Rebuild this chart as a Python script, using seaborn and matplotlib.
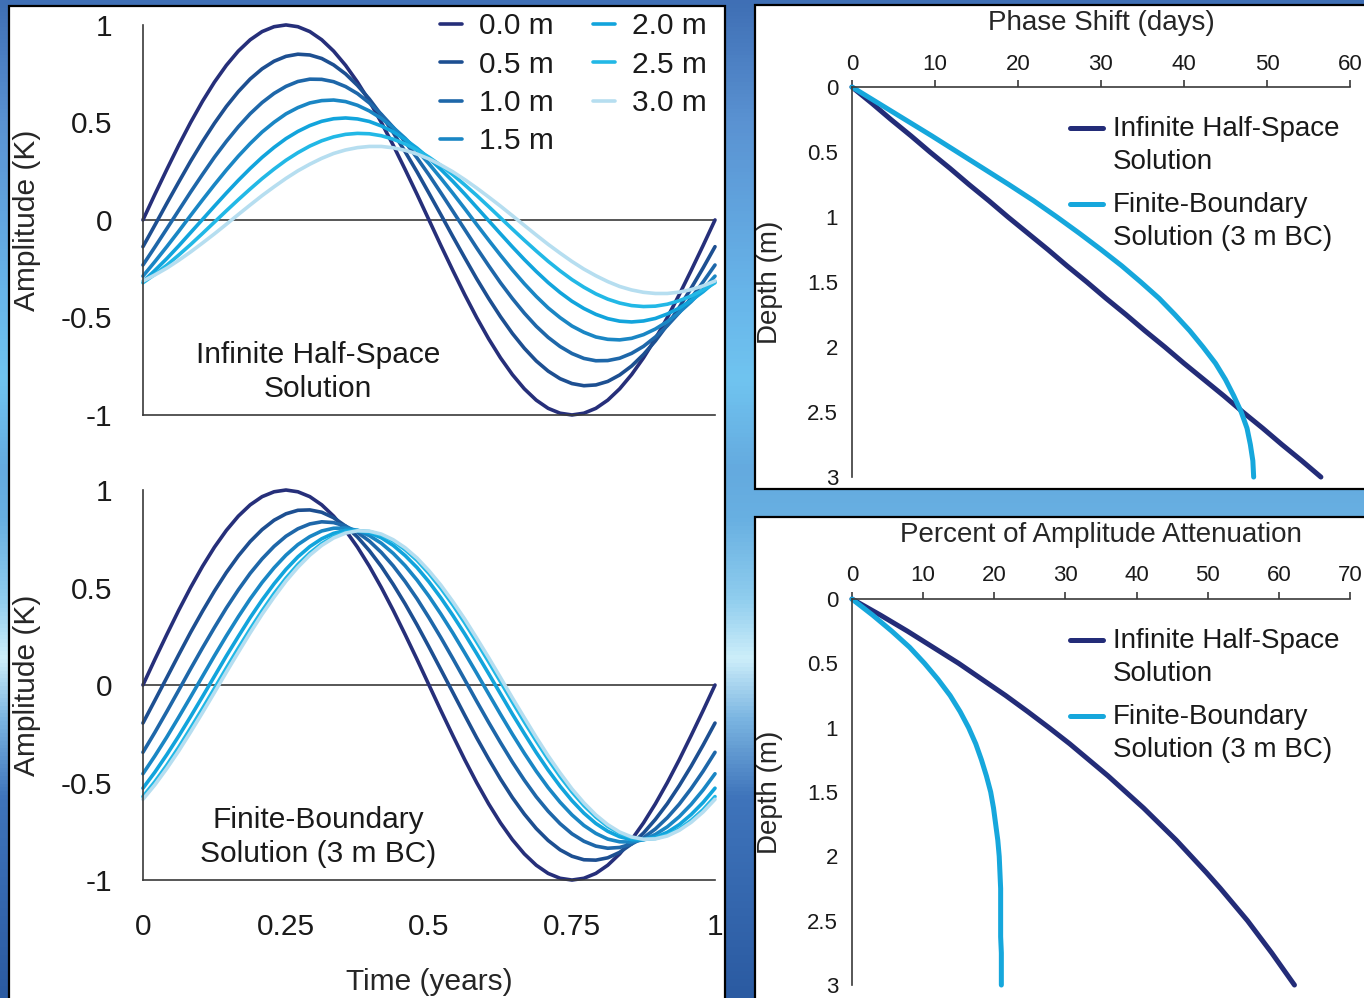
import numpy as np
import matplotlib
matplotlib.use('Agg')
import matplotlib.pyplot as plt
import seaborn as sns
from matplotlib.colors import LinearSegmentedColormap
from matplotlib.patches import Rectangle

"""Data read off the picture"""

# time axis of the two wave panels (years)
time_years = [0.0, 0.0208, 0.0417, 0.0625, 0.0833, 0.1042, 0.125, 0.1458, 0.1667, 0.1875,
              0.2083, 0.2292, 0.25, 0.2708, 0.2917, 0.3125, 0.3333, 0.3542, 0.375, 0.3958,
              0.4167, 0.4375, 0.4583, 0.4792, 0.5, 0.5208, 0.5417, 0.5625, 0.5833, 0.6042,
              0.625, 0.6458, 0.6667, 0.6875, 0.7083, 0.7292, 0.75, 0.7708, 0.7917, 0.8125,
              0.8333, 0.8542, 0.875, 0.8958, 0.9167, 0.9375, 0.9583, 0.9792, 1.0]

depth_labels = ['0.0 m', '0.5 m', '1.0 m', '1.5 m', '2.0 m', '2.5 m', '3.0 m']

# surface wave, same for both solutions
surf_00 = [0, 0.131, 0.259, 0.383, 0.5, 0.609, 0.707, 0.793, 0.866, 0.924, 0.966, 0.991,
           1, 0.991, 0.966, 0.924, 0.866, 0.793, 0.707, 0.609, 0.5, 0.383, 0.259, 0.131,
           0, -0.131, -0.259, -0.383, -0.5, -0.609, -0.707, -0.793, -0.866, -0.924, -0.966, -0.991,
           -1, -0.991, -0.966, -0.924, -0.866, -0.793, -0.707, -0.609, -0.5, -0.383, -0.259, -0.131, 0]

# infinite half-space solution, amplitude (K) per depth
inf_05 = [-0.137, -0.027, 0.085, 0.194, 0.301, 0.402, 0.496, 0.582, 0.658, 0.723, 0.775, 0.814,
          0.839, 0.850, 0.846, 0.828, 0.795, 0.749, 0.690, 0.620, 0.538, 0.448, 0.350, 0.246,
          0.137, 0.027, -0.085, -0.194, -0.301, -0.402, -0.496, -0.582, -0.658, -0.723, -0.775, -0.814,
          -0.839, -0.850, -0.846, -0.828, -0.795, -0.749, -0.690, -0.620, -0.538, -0.448, -0.350, -0.246,
          -0.137]
inf_10 = [-0.231, -0.139, -0.045, 0.049, 0.143, 0.234, 0.322, 0.403, 0.478, 0.545, 0.602, 0.649,
          0.685, 0.710, 0.722, 0.721, 0.709, 0.684, 0.648, 0.600, 0.542, 0.475, 0.400, 0.318,
          0.231, 0.139, 0.045, -0.049, -0.143, -0.234, -0.322, -0.403, -0.478, -0.545, -0.602, -0.649,
          -0.685, -0.710, -0.722, -0.721, -0.709, -0.684, -0.648, -0.600, -0.542, -0.475, -0.400, -0.318,
          -0.231]
inf_15 = [-0.288, -0.214, -0.137, -0.058, 0.023, 0.103, 0.181, 0.256, 0.327, 0.392, 0.451, 0.501,
          0.544, 0.576, 0.600, 0.612, 0.615, 0.607, 0.588, 0.559, 0.521, 0.474, 0.419, 0.356,
          0.288, 0.214, 0.137, 0.058, -0.023, -0.103, -0.181, -0.256, -0.327, -0.392, -0.451, -0.501,
          -0.544, -0.576, -0.600, -0.612, -0.615, -0.607, -0.588, -0.559, -0.521, -0.474, -0.419, -0.356,
          -0.288]
inf_20 = [-0.316, -0.259, -0.198, -0.133, -0.065, 0.003, 0.071, 0.138, 0.203, 0.264, 0.321, 0.372,
          0.417, 0.454, 0.484, 0.506, 0.519, 0.523, 0.518, 0.505, 0.482, 0.452, 0.413, 0.368,
          0.316, 0.259, 0.198, 0.133, 0.065, -0.003, -0.071, -0.138, -0.203, -0.264, -0.321, -0.372,
          -0.417, -0.454, -0.484, -0.506, -0.519, -0.523, -0.518, -0.505, -0.482, -0.452, -0.413, -0.368,
          -0.316]
inf_25 = [-0.322, -0.279, -0.232, -0.180, -0.126, -0.069, -0.011, 0.047, 0.104, 0.159, 0.212, 0.261,
          0.306, 0.345, 0.379, 0.406, 0.426, 0.439, 0.444, 0.442, 0.432, 0.414, 0.390, 0.359,
          0.322, 0.279, 0.232, 0.180, 0.126, 0.069, 0.011, -0.047, -0.104, -0.159, -0.212, -0.261,
          -0.306, -0.345, -0.379, -0.406, -0.426, -0.439, -0.444, -0.442, -0.432, -0.414, -0.390, -0.359,
          -0.322]
inf_30 = [-0.313, -0.282, -0.247, -0.207, -0.164, -0.118, -0.071, -0.022, 0.028, 0.077, 0.125, 0.170,
          0.213, 0.252, 0.286, 0.316, 0.341, 0.359, 0.371, 0.377, 0.377, 0.370, 0.357, 0.338,
          0.313, 0.282, 0.247, 0.207, 0.164, 0.118, 0.071, 0.022, -0.028, -0.077, -0.125, -0.170,
          -0.213, -0.252, -0.286, -0.316, -0.341, -0.359, -0.371, -0.377, -0.377, -0.370, -0.357, -0.338,
          -0.313]

# finite-boundary solution (3 m BC), amplitude (K) per depth
fin_05 = [-0.195, -0.079, 0.038, 0.155, 0.270, 0.379, 0.482, 0.577, 0.662, 0.736, 0.797, 0.845,
          0.878, 0.896, 0.898, 0.886, 0.858, 0.815, 0.759, 0.689, 0.608, 0.516, 0.416, 0.308,
          0.195, 0.079, -0.038, -0.155, -0.270, -0.379, -0.482, -0.577, -0.662, -0.736, -0.797, -0.845,
          -0.878, -0.896, -0.898, -0.886, -0.858, -0.815, -0.759, -0.689, -0.608, -0.516, -0.416, -0.308,
          -0.195]
fin_10 = [-0.345, -0.243, -0.136, -0.027, 0.083, 0.191, 0.295, 0.395, 0.488, 0.573, 0.647, 0.711,
          0.763, 0.801, 0.826, 0.837, 0.833, 0.815, 0.783, 0.738, 0.680, 0.611, 0.531, 0.442,
          0.345, 0.243, 0.136, 0.027, -0.083, -0.191, -0.295, -0.395, -0.488, -0.573, -0.647, -0.711,
          -0.763, -0.801, -0.826, -0.837, -0.833, -0.815, -0.783, -0.738, -0.680, -0.611, -0.531, -0.442,
          -0.345]
fin_15 = [-0.455, -0.364, -0.267, -0.165, -0.061, 0.045, 0.150, 0.252, 0.350, 0.442, 0.526, 0.601,
          0.666, 0.720, 0.761, 0.790, 0.804, 0.805, 0.793, 0.766, 0.727, 0.675, 0.612, 0.538,
          0.455, 0.364, 0.267, 0.165, 0.061, -0.045, -0.150, -0.252, -0.350, -0.442, -0.526, -0.601,
          -0.666, -0.720, -0.761, -0.790, -0.804, -0.805, -0.793, -0.766, -0.727, -0.675, -0.612, -0.538,
          -0.455]
fin_20 = [-0.529, -0.447, -0.357, -0.262, -0.162, -0.059, 0.045, 0.149, 0.249, 0.346, 0.436, 0.519,
          0.593, 0.657, 0.710, 0.750, 0.778, 0.793, 0.793, 0.781, 0.755, 0.716, 0.664, 0.602,
          0.529, 0.447, 0.357, 0.262, 0.162, 0.059, -0.045, -0.149, -0.249, -0.346, -0.436, -0.519,
          -0.593, -0.657, -0.710, -0.750, -0.778, -0.793, -0.793, -0.781, -0.755, -0.716, -0.664, -0.602,
          -0.529]
fin_25 = [-0.572, -0.496, -0.411, -0.319, -0.221, -0.120, -0.017, 0.087, 0.189, 0.287, 0.381, 0.469,
          0.548, 0.618, 0.677, 0.725, 0.761, 0.783, 0.792, 0.787, 0.769, 0.738, 0.694, 0.639,
          0.572, 0.496, 0.411, 0.319, 0.221, 0.120, 0.017, -0.087, -0.189, -0.287, -0.381, -0.469,
          -0.548, -0.618, -0.677, -0.725, -0.761, -0.783, -0.792, -0.787, -0.769, -0.738, -0.694, -0.639,
          -0.572]
fin_30 = [-0.586, -0.512, -0.428, -0.338, -0.241, -0.141, -0.038, 0.066, 0.168, 0.268, 0.363, 0.451,
          0.533, 0.604, 0.666, 0.716, 0.754, 0.779, 0.791, 0.789, 0.774, 0.745, 0.704, 0.651,
          0.586, 0.512, 0.428, 0.338, 0.241, 0.141, 0.038, -0.066, -0.168, -0.268, -0.363, -0.451,
          -0.533, -0.604, -0.666, -0.716, -0.754, -0.779, -0.791, -0.789, -0.774, -0.745, -0.704, -0.651,
          -0.586]

# depth profiles for the right hand panels
depth_m = [0, 0.125, 0.25, 0.375, 0.5, 0.625, 0.75, 0.875, 1.0, 1.125, 1.25, 1.375, 1.5,
           1.625, 1.75, 1.875, 2.0, 2.125, 2.25, 2.375, 2.5, 2.625, 2.75, 2.875, 3.0]
phase_inf_days = [0, 2.4, 4.7, 7.1, 9.4, 11.8, 14.1, 16.5, 18.8, 21.2, 23.6, 25.9, 28.3,
                  30.6, 33.0, 35.3, 37.7, 40.0, 42.4, 44.8, 47.1, 49.5, 51.8, 54.2, 56.5]
phase_fin_days = [0, 3.2, 6.4, 9.6, 12.7, 15.8, 18.9, 21.9, 24.7, 27.4, 30.0, 32.5, 34.8,
                  37.0, 38.9, 40.7, 42.3, 43.8, 45.0, 46.0, 46.9, 47.6, 48.0, 48.3, 48.4]
atten_inf_pct = [0, 4.0, 7.8, 11.4, 15.0, 18.3, 21.6, 24.7, 27.7, 30.6, 33.3, 36.0, 38.5,
                 41.0, 43.3, 45.6, 47.7, 49.8, 51.8, 53.7, 55.6, 57.3, 59.0, 60.6, 62.2]
atten_fin_pct = [0, 2.9, 5.6, 8.1, 10.2, 12.1, 13.8, 15.2, 16.4, 17.4, 18.2, 18.9, 19.5,
                 19.9, 20.2, 20.5, 20.7, 20.8, 20.9, 20.9, 20.9, 20.9, 21.0, 21.0, 21.0]

amp_ticks = [1, 0.5, 0, -0.5, -1]
amp_tick_labels = ['1', '0.5', '0', '-0.5', '-1']
time_ticks = [0, 0.25, 0.5, 0.75, 1]
time_tick_labels = ['0', '0.25', '0.5', '0.75', '1']
depth_ticks = [0, 0.5, 1, 1.5, 2, 2.5, 3]
depth_tick_labels = ['0', '0.5', '1', '1.5', '2', '2.5', '3']

depth_colors = ['#262f7a', '#1d4f91', '#1e67a9', '#1a86c4', '#12a4dc', '#22b8e6', '#b6def0']
navy = '#232c78'
cyan = '#16a7dc'
ink = '#1a1a1a'
axis_grey = '#3a3a3a'

sns.set_style('white')
plt.rcParams['font.family'] = ['Liberation Sans', 'DejaVu Sans']
plt.rcParams['text.color'] = ink

fig = plt.figure(figsize=(13.64, 9.98), dpi=100)

# blue gradient backdrop
bg = fig.add_axes([0, 0, 1, 1], zorder=-10)
bg_cmap = LinearSegmentedColormap.from_list('bg', [
    (0.0, '#3f6fb5'), (0.12, '#5a92d2'), (0.3, '#68b6ea'), (0.38, '#70c4f0'),
    (0.47, '#64aadf'), (0.52, '#68b0e2'), (0.6, '#8fcdee'), (0.66, '#cdeefa'),
    (0.72, '#7cb6e2'), (0.8, '#3f74bb'), (1.0, '#2b5ba2')])
bg.imshow(np.linspace(0, 1, 256).reshape(-1, 1), aspect='auto', cmap=bg_cmap)
bg.axis('off')

# white panels
for x0, y0, w, h in [(0.0066, -0.01, 0.525, 1.004),
                     (0.5535, 0.51, 0.46, 0.485),
                     (0.5535, -0.01, 0.46, 0.492)]:
    fig.add_artist(Rectangle((x0, y0), w, h, transform=fig.transFigure,
                             facecolor='white', edgecolor='black', lw=1.6, zorder=-5))


def wave_panel(ax, curves, note):
    """sine curves of temperature amplitude at each depth"""
    for lab, vals, col in zip(depth_labels, curves, depth_colors):
        sns.lineplot(x=time_years, y=vals, color=col, lw=2.6, label=lab, ax=ax, clip_on=False)
    ax.axhline(0, color=axis_grey, lw=1.2, zorder=0.5)
    ax.set_xlim(0, 1)
    ax.set_ylim(-1, 1)
    ax.set_yticks(amp_ticks)
    ax.set_yticklabels(amp_tick_labels)
    ax.set_xticks(time_ticks)
    ax.set_xticklabels(time_tick_labels)
    ax.tick_params(axis='both', direction='out', length=8, width=1.2, color=axis_grey,
                   labelsize=21.5, labelcolor=ink)
    ax.tick_params(axis='y', pad=14)
    ax.tick_params(axis='x', pad=16)
    for side in ['top', 'right']:
        ax.spines[side].set_visible(False)
    for side in ['left', 'bottom']:
        ax.spines[side].set_color(axis_grey)
        ax.spines[side].set_linewidth(1.2)
    ax.set_facecolor('none')
    ax.text(0.306, -0.78, note, ha='center', va='center', fontsize=21.5, linespacing=1.3)
    ax.set_ylabel('Amplitude (K)', fontsize=21.5)
    ax.yaxis.set_label_coords(-0.178, 0.5)
    ax.get_legend().remove()


def depth_panel(ax, inf_vals, fin_vals, xmax, title):
    """depth profile of the two solutions, axis on top"""
    sns.lineplot(x=inf_vals, y=depth_m, orient='y', sort=False, estimator=None, color=navy,
                 lw=3.6, label='Infinite Half-Space\nSolution', ax=ax, clip_on=False)
    sns.lineplot(x=fin_vals, y=depth_m, orient='y', sort=False, estimator=None, color=cyan,
                 lw=3.6, label='Finite-Boundary\nSolution (3 m BC)', ax=ax, clip_on=False)
    ax.set_xlim(0, xmax)
    ax.set_ylim(3, 0)
    ax.xaxis.tick_top()
    ax.xaxis.set_label_position('top')
    ax.set_xticks(list(range(0, xmax + 1, 10)))
    ax.set_yticks(depth_ticks)
    ax.set_yticklabels(depth_tick_labels)
    ax.tick_params(axis='both', direction='out', length=5, width=1.2, color=axis_grey,
                   labelsize=16, labelcolor=ink)
    ax.tick_params(axis='x', pad=4)
    ax.tick_params(axis='y', pad=5)
    for side in ['bottom', 'right']:
        ax.spines[side].set_visible(False)
    for side in ['left', 'top']:
        ax.spines[side].set_color(axis_grey)
        ax.spines[side].set_linewidth(1.2)
    ax.set_facecolor('none')
    ax.set_xlabel(title, fontsize=20)
    ax.set_ylabel('Depth (m)', fontsize=20)
    ax.yaxis.set_label_coords(-0.139, 0.5)
    leg = ax.legend(loc='upper left', bbox_to_anchor=(0.438, 0.925), frameon=False, fontsize=20,
                    handlelength=1.2, handletextpad=0.35, labelspacing=0.6, borderpad=0,
                    borderaxespad=0)
    for txt in leg.get_texts():
        txt.set_linespacing(1.36)
    # handle sits next to the first line of each label
    for ln in leg.get_lines():
        ln.set_ydata([y + 13 for y in ln.get_ydata()])


ax1 = fig.add_axes([0.1048, 0.5842, 0.4194, 0.3908])
ax2 = fig.add_axes([0.1048, 0.1182, 0.4194, 0.3908])
ax3 = fig.add_axes([0.6246, 0.5220, 0.3651, 0.3908])
ax4 = fig.add_axes([0.6246, 0.0130, 0.3651, 0.3868])

wave_panel(ax1, [surf_00, inf_05, inf_10, inf_15, inf_20, inf_25, inf_30],
           'Infinite Half-Space\nSolution')
ax1.tick_params(labelbottom=False)
ax1.legend(ncol=2, loc='upper left', bbox_to_anchor=(0.519, 1.033), frameon=False,
           fontsize=21.5, handlelength=0.75, handletextpad=0.55, columnspacing=1.32,
           labelspacing=0.35, borderpad=0, borderaxespad=0)

wave_panel(ax2, [surf_00, fin_05, fin_10, fin_15, fin_20, fin_25, fin_30],
           'Finite-Boundary\nSolution (3 m BC)')
ax2.set_xlabel('Time (years)', fontsize=21.5)
ax2.xaxis.set_label_coords(0.5, -0.226)

depth_panel(ax3, phase_inf_days, phase_fin_days, 60, 'Phase Shift (days)')
ax3.xaxis.set_label_coords(0.5, 1.146)
depth_panel(ax4, atten_inf_pct, atten_fin_pct, 70, 'Percent of Amplitude Attenuation')
ax4.xaxis.set_label_coords(0.5, 1.147)

fig.savefig('out.png', dpi=100)
